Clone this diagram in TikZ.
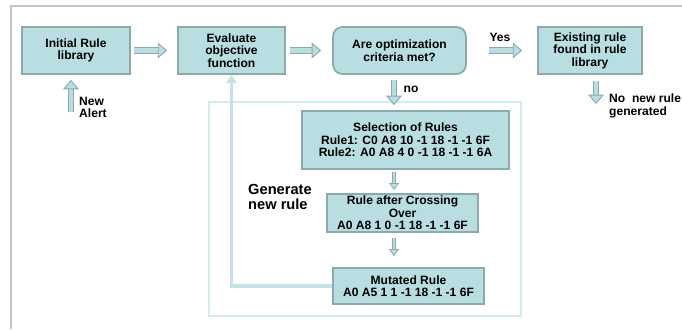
\documentclass[tikz,border=0pt]{standalone}
\usepackage{fontspec}
\setmainfont{Liberation Sans}
\usetikzlibrary{arrows.meta}

\definecolor{boxfill}{HTML}{B9DEE1}
\definecolor{boxedge}{HTML}{8CAAAD}
\definecolor{loopcol}{HTML}{C3E3E6}
\definecolor{framecol}{HTML}{C6C6C6}
\definecolor{innercol}{HTML}{D3ECEE}

\begin{document}
\begin{tikzpicture}[
    x=0.03cm, y=-0.03cm,
    font=\bfseries\fontsize{10.3}{10.6}\selectfont,
    rulebox/.style={
        draw=boxedge,
        line width=1.5pt,
        fill=boxfill,
        align=center,
        inner sep=0pt,
        minimum height=1.41cm
    },
    decision/.style={
        rulebox,
        rounded corners=8pt
    },
    bigarrow/.style={
        draw=boxedge,
        line width=0.8pt,
        double=boxfill,
        double distance=4.2pt,
        -{Triangle[width=13.5pt, length=8pt, fill=boxfill, line width=0.8pt]}
    },
    smallarrow/.style={
        draw=boxedge,
        line width=0.7pt,
        double=boxfill,
        double distance=1.8pt,
        -{Triangle[width=8.5pt, length=6pt, fill=boxfill, line width=0.7pt]}
    },
    feedback/.style={
        draw=loopcol,
        line width=2.6pt,
        -{Triangle[width=9pt, length=7pt]}
    },
    label/.style={align=left, inner sep=0pt}
]

\useasboundingbox (0,0) rectangle (682,329);

% frames
\draw[framecol, line width=1.7pt] (11,329) |- (682,6);
\draw[innercol, line width=1.3pt] (209,102) rectangle (521,316);

% top row
\node[rulebox, minimum width=3.24cm] (init) at (76,50.5) {Initial Rule\\library};
\node[rulebox, minimum width=3.21cm] (eval) at (231.5,50.5) {Evaluate\\objective\\function};
\node[decision, minimum width=3.99cm] (crit) at (399.5,50.5) {Are optimization\\criteria met?};
\node[rulebox, minimum width=3.12cm] (exist) at (590,50.5) {Existing rule\\found in rule\\library};

% new rule generation
\node[rulebox, minimum width=6.21cm, minimum height=1.74cm] (sel) at (405.5,140)
    {Selection of Rules\\Rule1: C0 A8 10 -1 18 -1 -1 6F\\Rule2: A0 A8 4 0 -1 18 -1 -1 6A};
\node[rulebox, minimum width=4.53cm, minimum height=1.14cm] (cross) at (402.5,213)
    {Rule after Crossing\\Over\\A0 A8 1 0 -1 18 -1 -1 6F};
\node[rulebox, minimum width=4.53cm, minimum height=1.08cm] (mut) at (408.5,286)
    {Mutated Rule\\A0 A5 1 1 -1 18 -1 -1 6F};

\coordinate (spine) at (394,0);
\coordinate (alert) at (71,112);
\coordinate (nonew) at (596,104);

% labels
\node[label] (yes) at (500,37) {Yes};
\node[label] (no) at (411,89) {no};
\node[label, anchor=west] (newalert) at (79,107.5) {New\\Alert};
\node[label, anchor=west] (norule) at (609,106) {No~ new rule\\generated};
\node[label, anchor=west, font=\bfseries\fontsize{12.5}{12.8}\selectfont] (gen) at (248,196.5)
    {Generate\\new rule};

% arrows
\draw[bigarrow, shorten <=2.6pt, shorten >=8.5pt] (init) -- (eval);
\draw[bigarrow, shorten <=3.4pt, shorten >=9.4pt] (eval) -- (crit);
\draw[bigarrow, shorten <=18.8pt, shorten >=12.8pt] (crit) -- (exist);
\draw[bigarrow, shorten <=4.3pt, shorten >=4.3pt] (crit.south -| spine) -- (sel.north -| spine);
\draw[bigarrow, shorten <=5pt] (exist.south -| nonew) -- (nonew);
\draw[bigarrow, shorten >=4.3pt] (alert) -- (init.south -| alert);
\draw[smallarrow, shorten <=1.7pt, shorten >=2.6pt] (sel.south -| spine) -- (cross.north -| spine);
\draw[smallarrow, shorten <=4.3pt, shorten >=9.4pt] (cross.south -| spine) -- (mut.north -| spine);

% loop back to the evaluation
\draw[feedback] (mut.west) -| (eval.south);

\end{tikzpicture}
\end{document}
